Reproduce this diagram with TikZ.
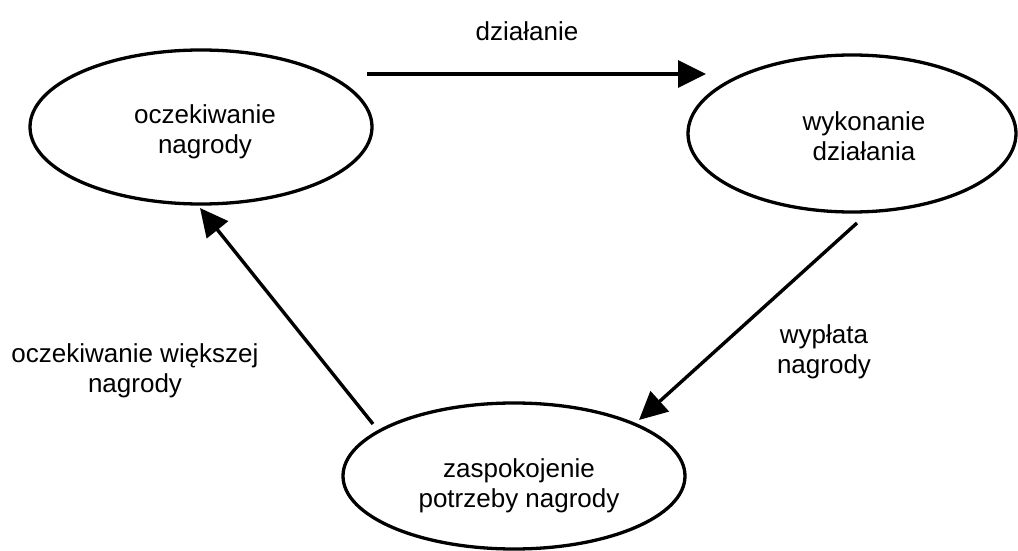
\documentclass[tikz,border=0pt]{standalone}
\usepackage{fontspec}
\setmainfont{Liberation Sans}
\usetikzlibrary{shapes.geometric,arrows.meta}
\begin{document}
\begin{tikzpicture}[x=0.5pt,y=-0.5pt,
  state/.style={draw=black,line width=1.65pt,ellipse,inner sep=0pt},
  lbl/.style={align=center,inner sep=0pt,font=\fontsize{13pt}{15pt}\selectfont},
  conn/.style={line width=1.7pt,-{Triangle[length=14pt,width=13.5pt]}}]
\useasboundingbox (0,0) rectangle (1018,551);
\node[state,minimum width=171pt,minimum height=77pt] (oczek) at (201,127) {};
\node[state,minimum width=164pt,minimum height=78.5pt] (wykon) at (852,133.5) {};
\node[state,minimum width=171pt,minimum height=73pt] (zasp) at (514,476) {};
\node[lbl] (t1) at (205,132) {oczekiwanie\\nagrody};
\node[lbl] (t2) at (864,136) {wykonanie\\działania};
\node[lbl] (t3) at (519,486) {zaspokojenie\\potrzeby nagrody};
\coordinate (a1s) at (367,74);
\coordinate (a1e) at (706,74);
\coordinate (a2s) at (857,223);
\coordinate (a2e) at (639,420);
\coordinate (a3s) at (373,424);
\coordinate (a3e) at (200,208);
\draw[conn] (a1s) -- (a1e);
\draw[conn] (a2s) -- (a2e);
\draw[conn] (a3s) -- (a3e);
\node[lbl] (l1) at (527,31) {działanie};
\node[lbl] (l2) at (824,352) {wypłata\\nagrody};
\node[lbl] (l3) at (135,371) {oczekiwanie większej\\nagrody};
\end{tikzpicture}
\end{document}
